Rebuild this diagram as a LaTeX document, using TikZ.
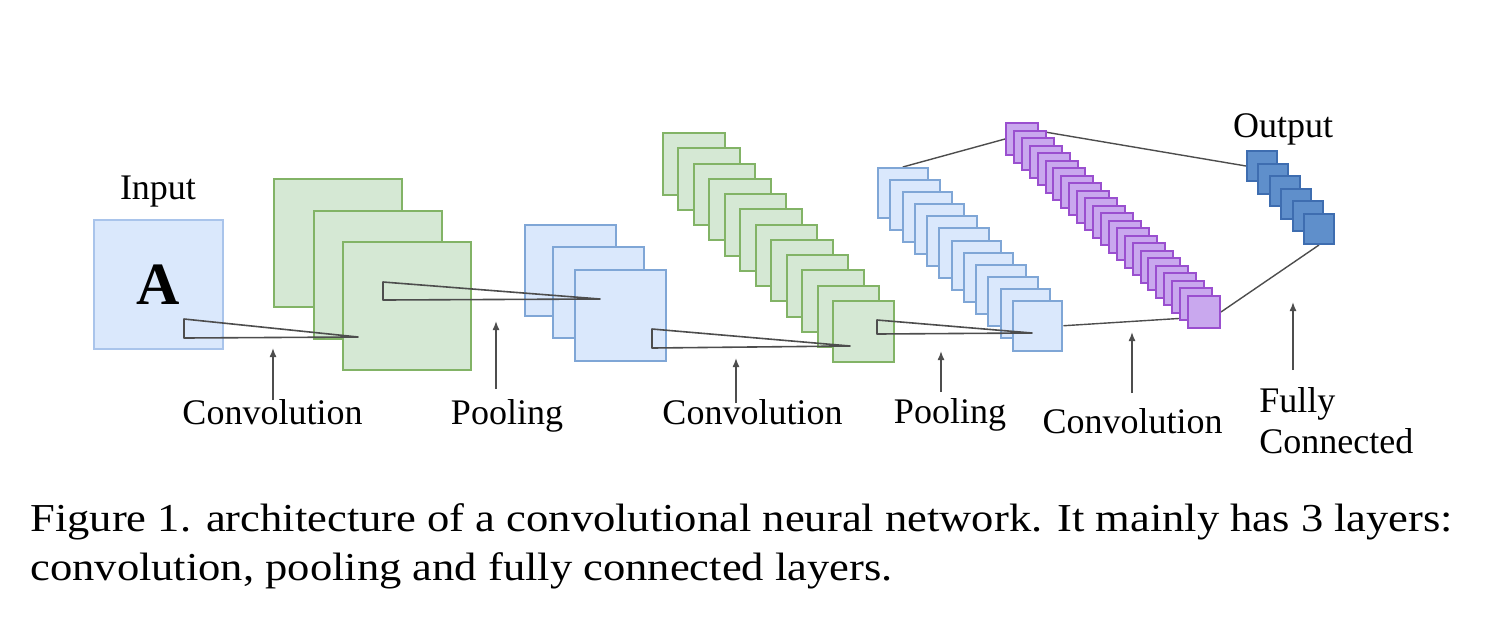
\documentclass[tikz,border=0pt]{standalone}
\usepackage{fontspec}
\setmainfont{Liberation Serif}
\newfontfamily\capfont[FakeStretch=1.125]{Liberation Serif}
\usetikzlibrary{arrows.meta,backgrounds}

\definecolor{inblue}{HTML}{A9C4EB}
\definecolor{inbluefill}{HTML}{DAE8FC}
\definecolor{poolblue}{HTML}{7FA6D6}
\definecolor{poolbluefill}{HTML}{DAE8FC}
\definecolor{convgreen}{HTML}{82B366}
\definecolor{convgreenfill}{HTML}{D5E8D4}
\definecolor{deeppurple}{HTML}{9A4FCF}
\definecolor{deeppurplefill}{HTML}{C9A8EE}
\definecolor{outblue}{HTML}{3E6DB0}
\definecolor{outbluefill}{HTML}{5F8FCB}
\definecolor{linkgray}{HTML}{4D4D4D}

\tikzset{
  map/.style={rectangle,inner sep=0pt,anchor=north west,line width=1pt,
    minimum width=#1,minimum height=#1},
  inmap/.style={map=#1,draw=inblue,fill=inbluefill},
  poolmap/.style={map=#1,draw=poolblue,fill=poolbluefill},
  convmap/.style={map=#1,draw=convgreen,fill=convgreenfill},
  deepmap/.style={map=#1,draw=deeppurple,fill=deeppurplefill},
  outmap/.style={map=#1,draw=outblue,fill=outbluefill},
  kernel/.style={draw=linkgray,line width=0.8pt,line join=round},
  link/.style={draw=linkgray,line width=0.7pt},
  uparrow/.style={draw=linkgray,line width=0.7pt,-{Latex[length=4.5pt,width=3.5pt]}},
  layername/.style={font=\fontsize{18}{21}\selectfont,inner sep=0pt},
  caption/.style={font=\capfont\fontsize{19.8}{24.5}\selectfont,inner sep=0pt,anchor=base west},
}

\begin{document}
\begin{tikzpicture}[x=0.5pt,y=-0.5pt]
  \useasboundingbox (0,0) rectangle (1490,634);

  % input image
  \node[inmap=64.5pt] (input) at (93,219) {};
  \node[font=\fontsize{30}{30}\selectfont\bfseries] (letter) at (input.center) {A};
  \node[layername,anchor=base] (input label) at (158,199) {Input};

  % first convolution
  \node[convmap=64pt] (ca0) at (273,178) {};
  \node[convmap=64pt] (ca1) at (313,210) {};
  \node[convmap=64pt] (ca2) at (342,241) {};

  % first pooling
  \node[poolmap=45.5pt] (pa0) at (524,224) {};
  \node[poolmap=45.5pt] (pa1) at (552,246) {};
  \node[poolmap=45.5pt] (pa2) at (574,269) {};

  % second convolution
  \foreach \i in {0,...,11}
    \node[convmap=30.75pt] (cb\i) at ({662+15.45*\i},{132+15.27*\i}) {};

  % second pooling
  \foreach \i in {0,...,11}
    \node[poolmap=24.75pt] (pb\i) at ({877+12.27*\i},{167+12.09*\i}) {};

  % third convolution
  \foreach \i in {0,...,23}
    \node[deepmap=16pt] (cc\i) at ({1005+7.913*\i},{122+7.52*\i}) {};

  % output
  \foreach \i in {0,...,5}
    \node[outmap=15pt] (out\i) at ({1246+11.4*\i},{150+12.6*\i}) {};
  \node[layername,anchor=base] (output label) at (1283,137) {Output};

  % kernels
  \coordinate (k1 top) at (184,319);
  \coordinate (k1 tip) at (358,337);
  \coordinate (k1 bot) at (184,338);
  \coordinate (k2 top) at (383,282);
  \coordinate (k2 tip) at (600,299);
  \coordinate (k2 bot) at (383,300);
  \coordinate (k3 top) at (652,329);
  \coordinate (k3 tip) at (850,346);
  \coordinate (k3 bot) at (652,348);
  \coordinate (k4 top) at (877,320);
  \coordinate (k4 tip) at (1032,333);
  \coordinate (k4 bot) at (877,334);
  \foreach \k in {1,2,3,4}
    \draw[kernel] (k\k\space top) -- (k\k\space tip) -- (k\k\space bot) -- cycle;

  % fully connected links
  \begin{scope}[on background layer]
    \draw[link] (pb0.north) -- (cc0.west);
    \draw[link] ([yshift=4pt]cc0.east) -- (out0.west);
    \draw[link] (pb11.east) -- ([yshift=-3pt]cc23.west);
    \draw[link] (cc23.east) -- (out5.south);
  \end{scope}

  % layer names
  \node[layername,anchor=base] (conv a) at (272.5,424) {Convolution};
  \node[layername,anchor=base] (pool a) at (507,424) {Pooling};
  \node[layername,anchor=base] (conv b) at (752.5,424) {Convolution};
  \node[layername,anchor=base] (pool b) at (950,423) {Pooling};
  \node[layername,anchor=base] (conv c) at (1132.5,433) {Convolution};
  \node[layername,anchor=base west] (fc a) at (1259,412) {Fully};
  \node[layername,anchor=base west] (fc b) at (1259,453) {Connected};

  % pointers
  \foreach \n/\x/\b/\t in {1/273/400/348,2/496/389/321,3/736/403/358,
                           4/941/392/351,5/1132/393/332,6/1293/370/302} {
    \coordinate (tail \n) at (\x,\b);
    \coordinate (head \n) at (\x,\t);
    \draw[uparrow] (tail \n) -- (head \n);
  }

  % caption
  \node[caption] (cap1) at (30,531)
    {Figure 1. architecture of a convolutional neural network. It mainly has 3 layers:};
  \node[caption] (cap2) at (30,580)
    {convolution, pooling and fully connected layers.};
\end{tikzpicture}
\end{document}
